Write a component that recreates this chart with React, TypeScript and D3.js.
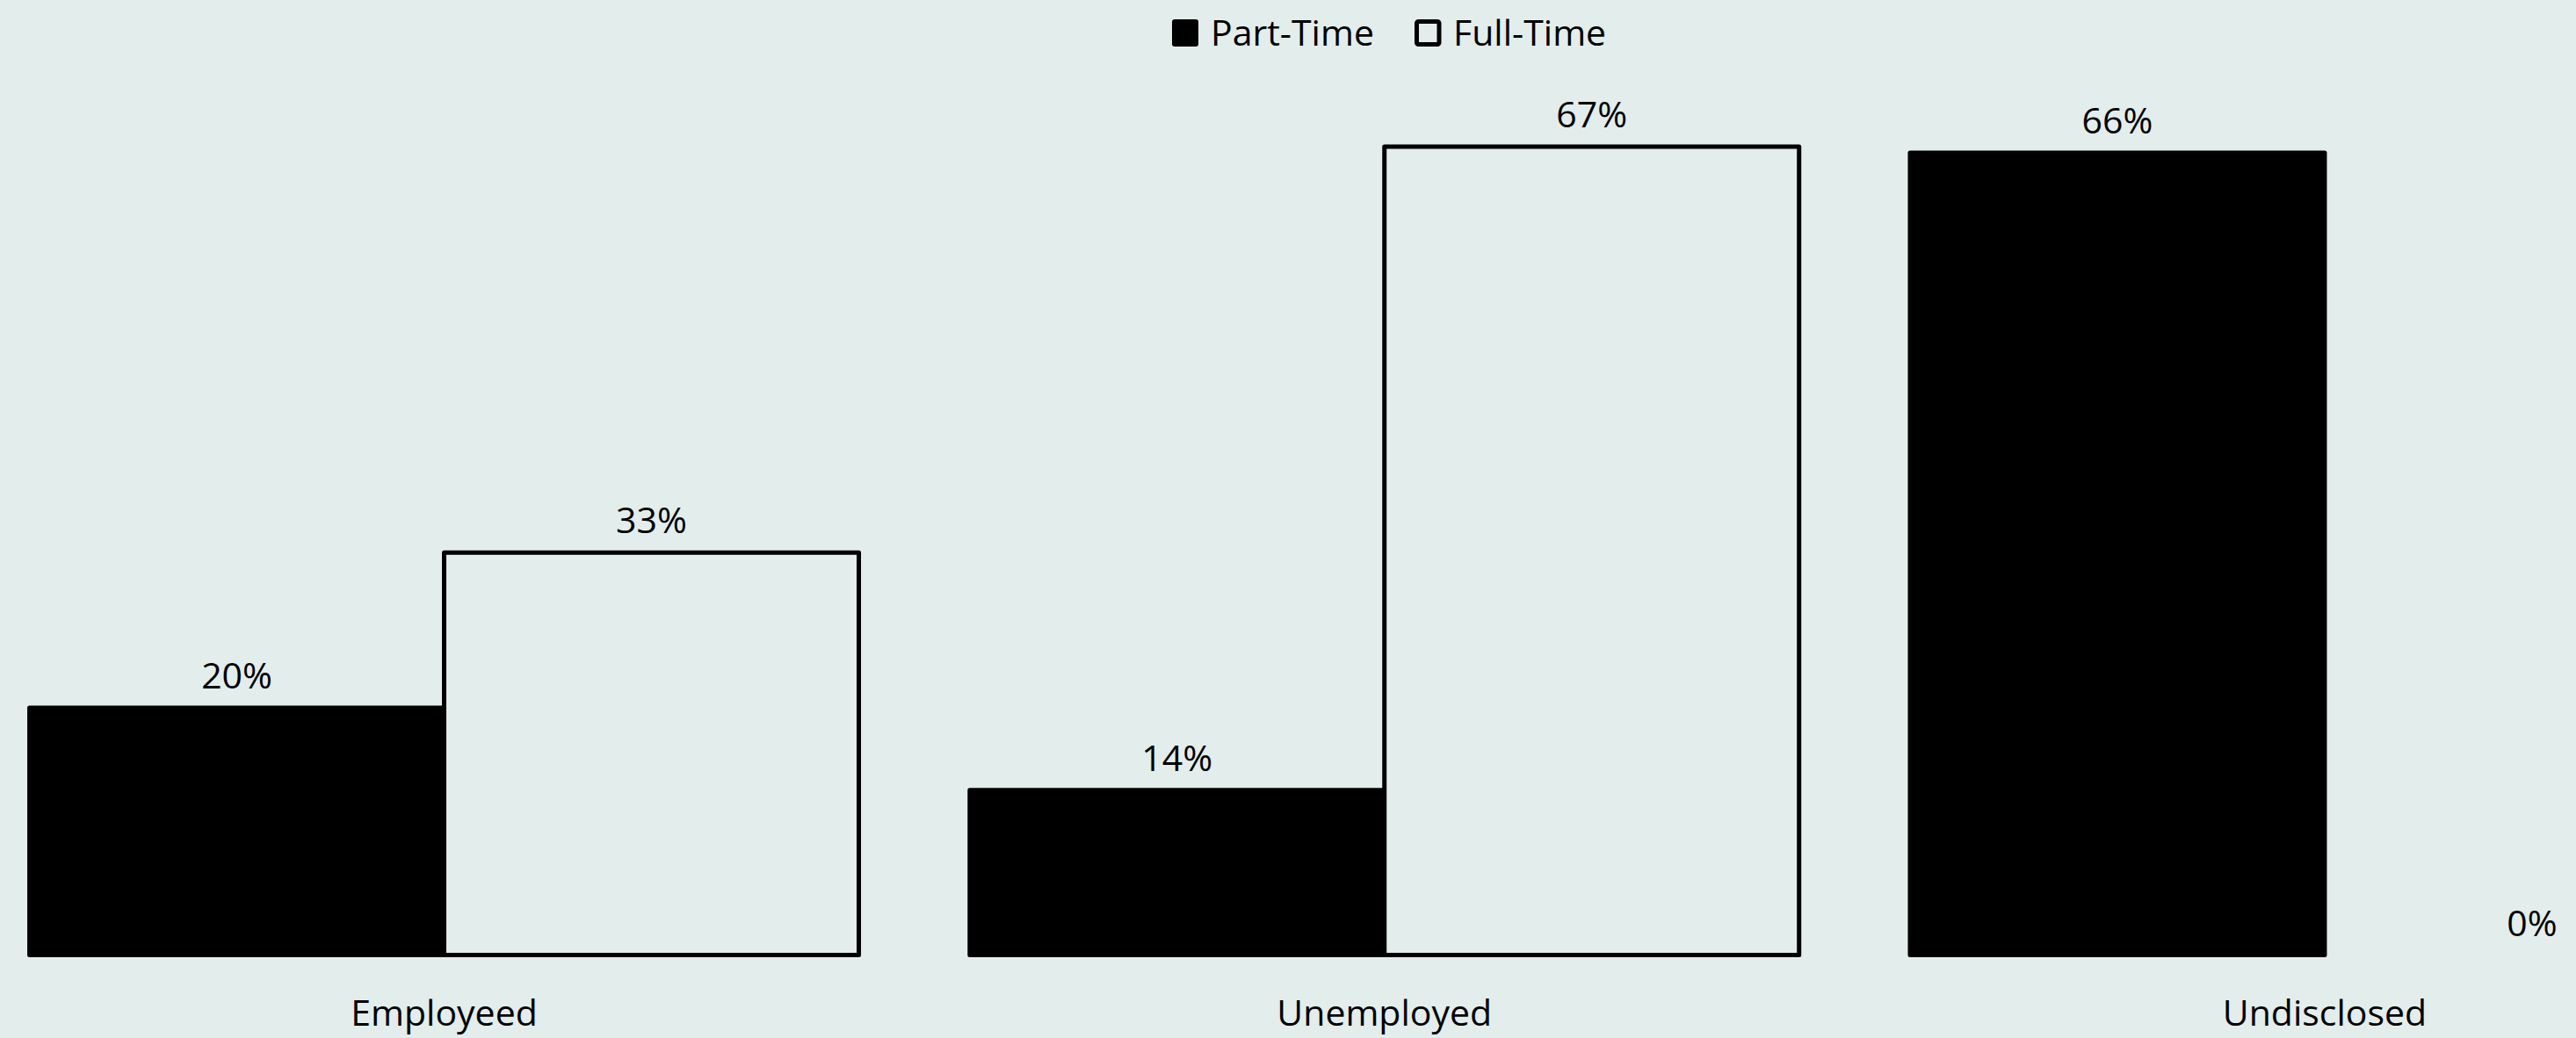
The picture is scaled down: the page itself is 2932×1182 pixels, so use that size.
import React from "react";
import * as d3 from "d3";

const categories = ["Employeed", "Unemployed", "Undisclosed"];
const seriesNames = ["Part-Time", "Full-Time"];
const partTime = [20.4, 13.6, 66.2];
const fullTime = [33.2, 66.7, 0];

const W = 2932;
const H = 1182;
const BG = "#e3edec";
const FONT = "'Open Sans', 'Noto Sans', sans-serif";
const FS = 41;

export default function App() {
  const x = d3
    .scaleBand<string>()
    .domain(categories)
    .range([-29.6, 3181.1])
    .paddingInner(0.118)
    .paddingOuter(0.059);
  const x1 = d3.scaleBand<string>().domain(seriesNames).range([0, x.bandwidth()]);
  const y = d3.scaleLinear().domain([0, 72]).range([1087.5, 1087.5 - 72 * 13.8]);

  const data = categories.map((c, i) => ({
    cat: c,
    vals: [
      { s: seriesNames[0], v: partTime[i] },
      { s: seriesNames[1], v: fullTime[i] },
    ],
  }));

  const fmt = (v: number) => `${Math.round(v)}%`;

  return (
    <svg
      width={W}
      height={H}
      style={{ position: "absolute", left: 0, top: 0, display: "block" }}
      fontFamily={FONT}
    >
      <rect x={0} y={0} width={W} height={H} fill={BG} />
      {data.map((d) => (
        <g key={d.cat} transform={`translate(${x(d.cat)},0)`}>
          {d.vals.map((b) =>
            b.v > 0 ? (
              <rect
                key={b.s}
                x={x1(b.s)}
                y={y(b.v)}
                width={x1.bandwidth()}
                height={y(0) - y(b.v)}
                fill={b.s === "Part-Time" ? "#000" : BG}
                stroke="#000"
                strokeWidth={5}
                strokeLinejoin="round"
              />
            ) : null
          )}
          {d.vals.map((b) => (
            <text
              key={b.s + "l"}
              x={(x1(b.s) as number) + x1.bandwidth() / 2}
              y={y(b.v) - 22}
              textAnchor="middle"
              fontSize={FS}
              fill="#000"
            >
              {fmt(b.v)}
            </text>
          ))}
          <text
            x={x.bandwidth() / 2}
            y={1168}
            textAnchor="middle"
            fontSize={FS}
            fill="#000"
          >
            {d.cat}
          </text>
        </g>
      ))}
      {/* legend */}
      <g>
        <rect x={1335} y={23} width={28} height={29} rx={2} fill="#000" stroke="#000" strokeWidth={2} />
        <text x={1378} y={52} fontSize={FS} fill="#000">
          {seriesNames[0]}
        </text>
        <rect x={1612.5} y={24.5} width={25.5} height={26} rx={2} fill={BG} stroke="#000" strokeWidth={5} />
        <text x={1654} y={52} fontSize={FS} fill="#000">
          {seriesNames[1]}
        </text>
      </g>
    </svg>
  );
}
